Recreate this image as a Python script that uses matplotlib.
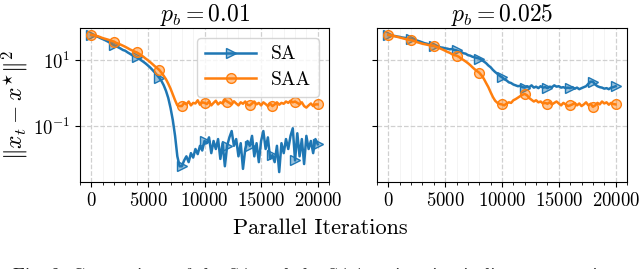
import matplotlib
matplotlib.use('Agg')
import matplotlib.pyplot as plt
from matplotlib.ticker import MultipleLocator, NullLocator, FixedLocator
import numpy as np

plt.rcParams['font.family'] = 'serif'
plt.rcParams['font.serif'] = ['cmr10', 'DejaVu Serif']
plt.rcParams['mathtext.fontset'] = 'cm'
plt.rcParams['axes.formatter.use_mathtext'] = True

# iterations, sampled every 200
iters = np.arange(0, 20001, 200)

titles = [r'$p_b = 0.01$', r'$p_b = 0.025$']

sa_001 = [57, 55, 52, 50, 46, 43, 40, 37, 34, 31,
          28, 26, 24, 22, 20, 19, 17, 15.5, 14, 13,
          12, 11, 9.8, 8.8, 7.8, 6.8, 5.9, 5.0, 4.2, 3.5,
          2.9, 2.3, 1.7, 1.15, 0.7, 0.35, 0.15, 0.05, 0.012, 0.006,
          0.006, 0.009, 0.012, 0.008, 0.015, 0.011, 0.02, 0.014, 0.025, 0.018,
          0.035, 0.03, 0.045, 0.015, 0.035, 0.02, 0.04, 0.01, 0.03, 0.006,
          0.025, 0.045, 0.07, 0.025, 0.04, 0.012, 0.03, 0.005, 0.02, 0.035,
          0.025, 0.05, 0.012, 0.03, 0.008, 0.035, 0.07, 0.02, 0.045, 0.01,
          0.013, 0.008, 0.025, 0.004, 0.03, 0.015, 0.04, 0.02, 0.05, 0.085,
          0.009, 0.06, 0.012, 0.04, 0.007, 0.05, 0.02, 0.035, 0.015, 0.04,
          0.028]

saa_001 = [58, 56, 54, 52, 49, 46, 44, 42, 40, 38,
           36, 33, 31, 29, 27, 25, 23, 21, 19.5, 18,
           17, 15.5, 14, 12.5, 11, 9.8, 8.6, 7.5, 6.5, 5.7,
           5.0, 4.1, 3.3, 2.6, 1.9, 1.35, 0.9, 0.6, 0.42, 0.4,
           0.4, 0.5, 0.45, 0.55, 0.42, 0.5, 0.48, 0.6, 0.44, 0.52,
           0.5, 0.46, 0.55, 0.42, 0.5, 0.58, 0.45, 0.52, 0.48, 0.62,
           0.55, 0.5, 0.45, 0.56, 0.48, 0.42, 0.52, 0.47, 0.55, 0.44,
           0.42, 0.48, 0.55, 0.45, 0.5, 0.42, 0.52, 0.46, 0.4, 0.48,
           0.4, 0.45, 0.52, 0.44, 0.5, 0.47, 0.55, 0.5, 0.58, 0.52,
           0.55, 0.5, 0.45, 0.52, 0.4, 0.36, 0.42, 0.48, 0.4, 0.45,
           0.45]

sa_0025 = [57, 56, 54, 53, 51, 50, 48, 47, 46, 45,
           44, 42, 40, 38, 36, 34, 32, 31, 29, 28,
           27, 26, 25.5, 24, 23.5, 22.5, 22, 21, 21.5, 20,
           19.5, 18, 17.5, 16, 15.5, 14, 13.5, 12.5, 12, 11.5,
           11, 10, 9, 8, 6.8, 6, 5, 4.3, 3.8, 3.3,
           3.0, 2.6, 2.4, 2.1, 2.0, 1.8, 1.7, 1.6, 1.65, 1.5,
           1.45, 1.6, 1.5, 1.7, 1.45, 1.55, 1.4, 1.6, 1.45, 1.5,
           1.4, 1.55, 1.5, 1.7, 1.55, 1.6, 1.45, 1.5, 1.4, 1.45,
           1.4, 1.5, 1.35, 1.45, 1.3, 1.4, 1.5, 1.6, 1.9, 2.2,
           2.2, 1.8, 1.6, 1.5, 1.45, 1.35, 1.4, 1.3, 1.45, 1.5,
           1.6]

saa_0025 = [58, 56, 54, 52, 50, 48, 46, 44, 42.5, 41,
            40, 38, 36, 34, 32.5, 31, 30, 29, 28, 27.5,
            27, 25, 23.5, 22, 20.5, 19, 17.5, 16.5, 15, 14,
            13.5, 12.5, 11, 10, 9, 8, 7, 6, 5.2, 4.6,
            4.1, 3.4, 2.7, 2.0, 1.5, 1.05, 0.75, 0.58, 0.5, 0.46,
            0.45, 0.42, 0.48, 0.52, 0.5, 0.6, 0.65, 0.72, 0.8, 0.88,
            0.93, 0.85, 0.7, 0.62, 0.55, 0.6, 0.52, 0.55, 0.48, 0.5,
            0.47, 0.52, 0.45, 0.5, 0.55, 0.48, 0.42, 0.5, 0.45, 0.4,
            0.42, 0.45, 0.5, 0.42, 0.48, 0.4, 0.45, 0.52, 0.42, 0.47,
            0.38, 0.42, 0.5, 0.45, 0.55, 0.48, 0.52, 0.44, 0.5, 0.46,
            0.45]

BLUE = '#1f77b4'
ORANGE = '#ff7f0e'

fig = plt.figure(figsize=(6.4, 2.69), dpi=100)
ax1 = fig.add_axes([80 / 640, 1 - 182 / 269, 249 / 640, 154 / 269])
ax2 = fig.add_axes([377 / 640, 1 - 182 / 269, 250 / 640, 154 / 269], sharey=ax1)

for ax, title, sa, saa in [(ax1, titles[0], sa_001, saa_001),
                           (ax2, titles[1], sa_0025, saa_0025)]:
    ax.plot(iters, sa, color=BLUE, lw=1.8, marker='>', markevery=10, ms=7,
            mfc=(0.12, 0.47, 0.71, 0.45), mec=BLUE, mew=1.0, label='SA', zorder=3)
    ax.plot(iters, saa, color=ORANGE, lw=1.8, marker='o', markevery=10, ms=7,
            mfc=(1.0, 0.5, 0.05, 0.45), mec=ORANGE, mew=1.0, label='SAA', zorder=3)
    ax.set_yscale('log')
    ax.set_ylim(2e-3, 93)
    ax.yaxis.set_major_locator(FixedLocator([1e-1, 1e1]))
    ax.yaxis.set_minor_locator(NullLocator())
    ax.xaxis.set_major_locator(MultipleLocator(5000))
    ax.xaxis.set_minor_locator(MultipleLocator(1000))
    ax.grid(True, which='major', ls='--', color='#d0d0d0', lw=0.9)
    ax.grid(True, which='minor', axis='x', ls='-', color='#f2f2f2', lw=0.6)
    ax.set_axisbelow(True)
    ax.tick_params(labelsize=13.5)
    ax.set_title(title, fontsize=17, pad=4)

plt.setp(ax2.get_yticklabels(), visible=False)
ax1.set_ylabel(r'$\|x_t - x^{\star}\|^2$', fontsize=17, labelpad=2)
ax1.legend(loc='upper right', fontsize=14, framealpha=0.8, handlelength=2.6,
           borderpad=0.4, labelspacing=0.4)

fig.text(0.5, 1 - 228 / 269, 'Parallel Iterations', ha='center', va='center', fontsize=16)
# caption, clipped by the bottom edge as in the source page
fig.text(13 / 640, -0.03, 'Fig. 2: Comparison of the SA and the SAA estimation in linear regression',
         ha='left', va='center', fontsize=13.5, color='#222222')

fig.savefig('out.png', dpi=100)
